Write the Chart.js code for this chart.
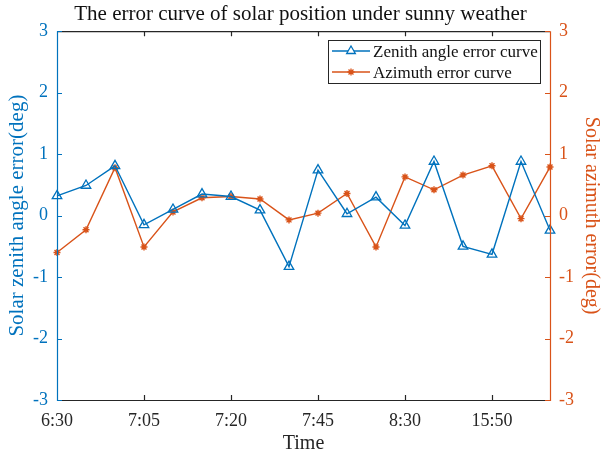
<!DOCTYPE html>
<html>
<head>
<meta charset="utf-8">
<script src="https://cdn.jsdelivr.net/npm/chart.js@4.4.1/dist/chart.umd.min.js"></script>
<style>
  html, body { margin: 0; padding: 0; background: #fff; }
  #wrap { width: 601px; height: 456px; }
</style>
</head>
<body>
<div id="wrap"><canvas id="c" width="601" height="456"></canvas></div>
<script>
// Sampling instants; only every third one carries a printed label
const timeLabels = ['6:30', '', '', '7:05', '', '', '7:20', '', '', '7:45', '', '', '8:30', '', '', '15:50', '', ''];

// Zenith angle error (deg), left axis
const zenithError = [0.32, 0.49, 0.81, -0.15, 0.10, 0.35, 0.31, 0.09, -0.83, 0.74, 0.03, 0.30, -0.16, 0.88, -0.50, -0.63, 0.88, -0.24];

// Azimuth error (deg), right axis
const azimuthError = [-0.60, -0.23, 0.78, -0.51, 0.06, 0.29, 0.31, 0.27, -0.07, 0.04, 0.36, -0.51, 0.63, 0.42, 0.66, 0.81, -0.05, 0.79];

const yTicks = [-3, -2, -1, 0, 1, 2, 3];

const BLUE = '#0072BD';
const ORANGE = '#D95319';
const SERIF = '"Liberation Serif", "Times New Roman", serif';

// Box frame, inward tick marks and the legend, in MATLAB style
const framePlugin = {
  id: 'frame',
  afterDraw(chart) {
    const { ctx, chartArea: a, scales } = chart;
    const x = scales.x, yl = scales.y, yr = scales.y1;
    ctx.save();
    ctx.lineWidth = 1.2;
    // top and bottom borders
    ctx.strokeStyle = '#262626';
    ctx.beginPath();
    ctx.moveTo(a.left, a.top + 0.5); ctx.lineTo(a.right, a.top + 0.5);
    ctx.moveTo(a.left, a.bottom + 0.5); ctx.lineTo(a.right, a.bottom + 0.5);
    ctx.stroke();
    // x ticks (inward, top and bottom)
    ctx.beginPath();
    x.ticks.forEach((t, i) => {
      if (!timeLabels[t.value]) return;
      const px = Math.round(x.getPixelForTick(i)) + 0.5;
      if (px <= a.left + 1 || px >= a.right - 1) return;
      ctx.moveTo(px, a.bottom); ctx.lineTo(px, a.bottom - 5);
      ctx.moveTo(px, a.top); ctx.lineTo(px, a.top + 5);
    });
    ctx.stroke();
    // left axis line and ticks
    ctx.strokeStyle = BLUE;
    ctx.beginPath();
    ctx.moveTo(a.left + 0.5, a.top); ctx.lineTo(a.left + 0.5, a.bottom + 1);
    yTicks.forEach(v => {
      const py = Math.round(yl.getPixelForValue(v)) + 0.5;
      ctx.moveTo(a.left, py); ctx.lineTo(a.left + 5, py);
    });
    ctx.stroke();
    // right axis line and ticks
    ctx.strokeStyle = ORANGE;
    ctx.beginPath();
    ctx.moveTo(a.right + 0.5, a.top); ctx.lineTo(a.right + 0.5, a.bottom + 1);
    yTicks.forEach(v => {
      const py = Math.round(yr.getPixelForValue(v)) + 0.5;
      ctx.moveTo(a.right, py); ctx.lineTo(a.right - 5, py);
    });
    ctx.stroke();

    // legend box
    const bx = 328, by = 40, bw = 212, bh = 43;
    ctx.fillStyle = '#fff';
    ctx.fillRect(bx, by, bw, bh);
    ctx.strokeStyle = '#262626';
    ctx.lineWidth = 1;
    ctx.strokeRect(bx + 0.5, by + 0.5, bw, bh);
    const rows = [
      { text: 'Zenith angle error curve', color: BLUE, style: 'triangle', y: by + 11 },
      { text: 'Azimuth error curve', color: ORANGE, style: 'star', y: by + 32 }
    ];
    rows.forEach(r => {
      ctx.strokeStyle = r.color;
      ctx.lineWidth = 1.3;
      ctx.beginPath();
      ctx.moveTo(bx + 4, r.y); ctx.lineTo(bx + 42, r.y);
      ctx.stroke();
      Chart.helpers.drawPoint(ctx, {
        pointStyle: r.style,
        radius: r.style === 'triangle' ? 5 : 3.5,
        borderWidth: 1.3
      }, bx + 23, r.y);
      ctx.fillStyle = '#111';
      ctx.font = '17px ' + SERIF;
      ctx.textBaseline = 'middle';
      ctx.textAlign = 'left';
      ctx.fillText(r.text, bx + 45, r.y + 2);
    });
    ctx.restore();
  }
};

new Chart(document.getElementById('c'), {
  type: 'line',
  data: {
    labels: timeLabels.map((t, i) => i),
    datasets: [
      {
        label: 'Zenith angle error curve',
        data: zenithError,
        yAxisID: 'y',
        borderColor: BLUE,
        backgroundColor: 'rgba(0,0,0,0)',
        borderWidth: 1.4,
        pointStyle: 'triangle',
        pointRadius: 5.5,
        pointBorderWidth: 1.3,
        pointBorderColor: BLUE,
        pointBackgroundColor: 'rgba(0,0,0,0)',
        tension: 0
      },
      {
        label: 'Azimuth error curve',
        data: azimuthError,
        yAxisID: 'y1',
        borderColor: ORANGE,
        backgroundColor: ORANGE,
        borderWidth: 1.4,
        pointStyle: 'star',
        pointRadius: 3.5,
        pointBorderWidth: 1.4,
        pointBorderColor: ORANGE,
        tension: 0
      }
    ]
  },
  options: {
    responsive: false,
    animation: false,
    layout: { padding: 0 },
    plugins: {
      legend: { display: false },
      tooltip: { enabled: false },
      title: {
        display: true,
        text: 'The error curve of solar position under sunny weather',
        color: '#111',
        font: { family: SERIF, size: 21, weight: 'normal' },
        padding: { top: 2, bottom: 4 }
      }
    },
    scales: {
      x: {
        type: 'category',
        offset: false,
        grid: { display: false, drawTicks: false },
        border: { display: false },
        ticks: {
          autoSkip: false,
          maxRotation: 0,
          padding: 10,
          color: '#262626',
          font: { family: SERIF, size: 18 },
          callback: (v) => timeLabels[v]
        },
        title: {
          display: true,
          text: 'Time',
          color: '#262626',
          font: { family: SERIF, size: 20 },
          padding: { top: 0, bottom: 0 }
        },
        afterFit: (s) => { s.height = 56; }
      },
      y: {
        position: 'left',
        min: -3, max: 3,
        grid: { display: false, drawTicks: false },
        border: { display: false },
        afterBuildTicks: (s) => { s.ticks = yTicks.map(v => ({ value: v })); },
        ticks: {
          padding: 9,
          color: BLUE,
          font: { family: SERIF, size: 18 }
        },
        title: {
          display: true,
          text: 'Solar zenith angle error(deg)',
          color: BLUE,
          font: { family: SERIF, size: 21, lineHeight: 1 },
          padding: { top: 7, bottom: 0 }
        },
        afterFit: (s) => { s.width = 57; }
      },
      y1: {
        position: 'right',
        min: -3, max: 3,
        grid: { display: false, drawTicks: false },
        border: { display: false },
        afterBuildTicks: (s) => { s.ticks = yTicks.map(v => ({ value: v })); },
        ticks: {
          padding: 9,
          color: ORANGE,
          font: { family: SERIF, size: 18 }
        },
        title: {
          display: true,
          text: 'Solar azimuth error(deg)',
          color: ORANGE,
          font: { family: SERIF, size: 20, lineHeight: 1 },
          padding: { top: 0, bottom: 0 }
        },
        afterFit: (s) => { s.width = 51; }
      }
    }
  },
  plugins: [framePlugin]
});
</script>
</body>
</html>
